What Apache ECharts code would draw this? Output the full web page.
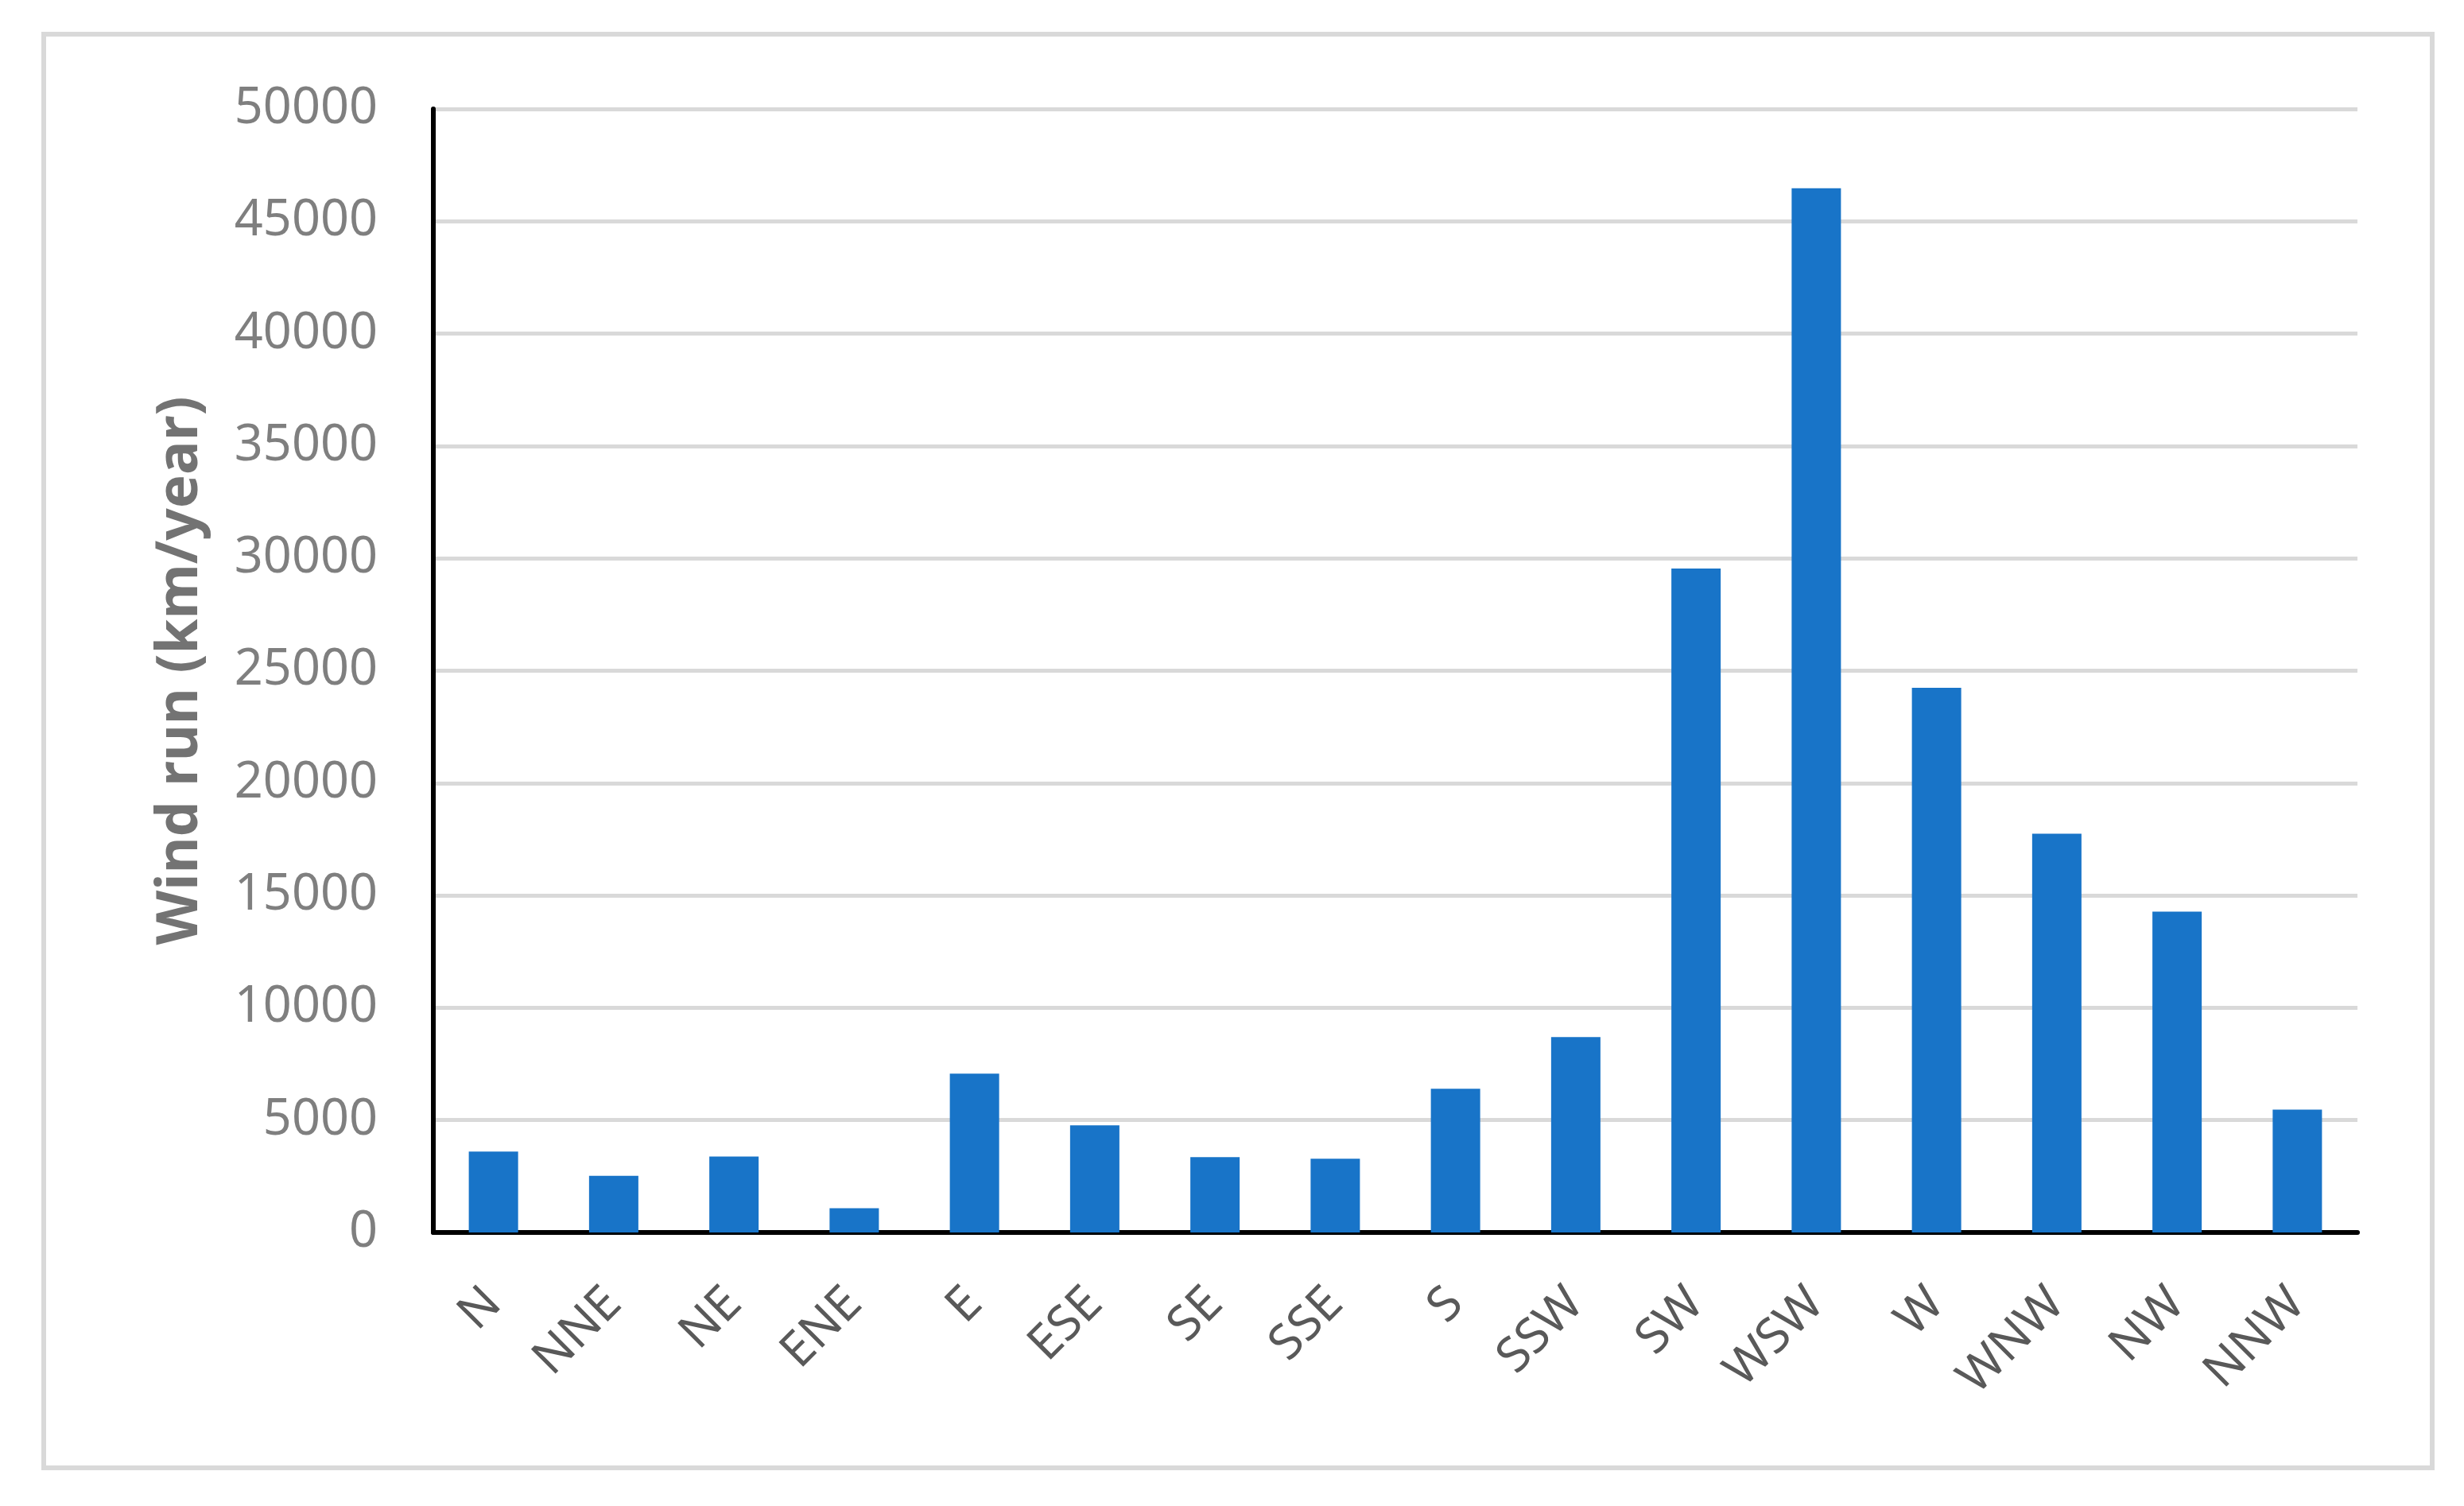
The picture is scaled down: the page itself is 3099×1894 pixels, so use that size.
<!DOCTYPE html>
<html>
<head>
<meta charset="utf-8">
<script src="https://cdn.jsdelivr.net/npm/echarts@6/dist/echarts.min.js"></script>
<style>
  html, body { margin: 0; padding: 0; background: #ffffff; }
  #chart { width: 3099px; height: 1894px; }
</style>
</head>
<body>
<div id="chart"></div>
<script>
const categories = ['N', 'NNE', 'NE', 'ENE', 'E', 'ESE', 'SE', 'SSE', 'S', 'SSW', 'SW', 'WSW', 'W', 'WNW', 'NW', 'NNW'];
const windRun = [3600, 2520, 3380, 1080, 7070, 4770, 3350, 3280, 6400, 8700, 29550, 46470, 24240, 17750, 14280, 5470];
const yTicks = { min: 0, max: 50000, interval: 5000 };
const yAxisTitle = 'Wind run (km/year)';

const chart = echarts.init(document.getElementById('chart'), null, { renderer: 'canvas' });
chart.setOption({
  backgroundColor: '#ffffff',
  animation: false,
  graphic: [{
    type: 'rect',
    shape: { x: 55, y: 43, width: 3004, height: 1803 },
    style: { fill: 'none', stroke: '#d9d9d9', lineWidth: 6 },
    z: -1
  }],
  grid: { left: 545, right: 134, top: 137, bottom: 344, containLabel: false },
  xAxis: {
    type: 'category',
    data: categories,
    axisLine: { show: true, lineStyle: { color: '#000000', width: 6 } },
    axisTick: { show: false },
    axisLabel: {
      rotate: 45,
      margin: 80,
      color: '#595959',
      fontFamily: 'Noto Sans',
      fontSize: 61,
      interval: 0
    },
    splitLine: { show: false }
  },
  yAxis: {
    type: 'value',
    min: yTicks.min,
    max: yTicks.max,
    interval: yTicks.interval,
    name: yAxisTitle,
    nameLocation: 'middle',
    nameRotate: 90,
    nameGap: 282,
    nameTextStyle: {
      color: '#737373',
      fontFamily: 'Noto Sans',
      fontWeight: 'bold',
      fontSize: 71
    },
    axisLine: { show: true, lineStyle: { color: '#000000', width: 6 } },
    axisTick: { show: false },
    axisLabel: {
      margin: 70,
      color: '#7f7f7f',
      fontFamily: 'Noto Sans',
      fontSize: 63,
      formatter: function (v) { return String(v); }
    },
    splitLine: { show: true, lineStyle: { color: '#d9d9d9', width: 5 } }
  },
  series: [{
    type: 'bar',
    data: windRun,
    barWidth: '41%',
    itemStyle: { color: '#1874c8' }
  }]
});
</script>
</body>
</html>
